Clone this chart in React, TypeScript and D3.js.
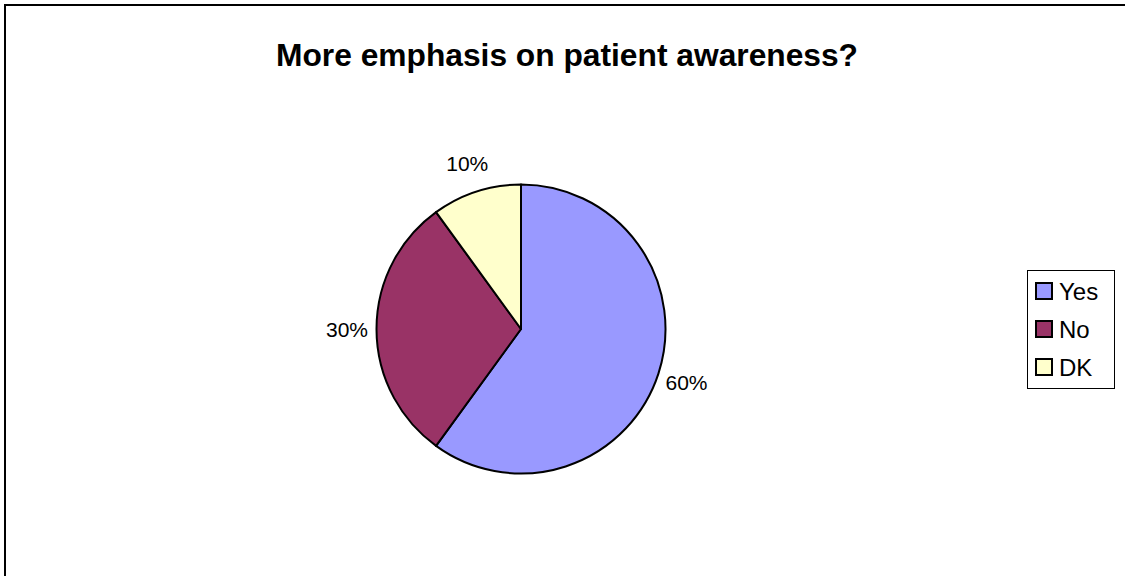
import React from "react";
import * as d3 from "d3";

const categories: string[] = ["Yes", "No", "DK"];
const shares: number[] = [60, 30, 10];
const sliceColors: string[] = ["#9999FF", "#993366", "#FFFFCC"];
const titleText = "More emphasis on patient awareness?";

const W = 1125;
const H = 576;
const cx = 521;
const cy = 329;
const radius = 144.5;
const labelRadius = 174;
const font = "Arial, 'Liberation Sans', Helvetica, sans-serif";

export default function App() {
  const pie = d3
    .pie<number>()
    .sort(null)
    .value((d) => d);
  const slices = pie(shares);
  const arc = d3.arc<d3.PieArcDatum<number>>().innerRadius(0).outerRadius(radius);
  const labelArc = d3
    .arc<d3.PieArcDatum<number>>()
    .innerRadius(labelRadius)
    .outerRadius(labelRadius);

  const legendY = d3
    .scaleBand<string>()
    .domain(categories)
    .range([272, 386])
    .paddingInner(0);

  return (
    <div style={{ position: "fixed", left: 0, top: 0, width: W, height: H, background: "#fff" }}>
      <svg width={W} height={H} style={{ display: "block" }}>
        <rect x={0} y={0} width={W} height={H} fill="#fff" />
        {/* chart area frame, clipped by the right and bottom edges */}
        <rect x={5} y={5} width={W + 20} height={H + 20} fill="none" stroke="#000" strokeWidth={2} />
        <text
          x={567}
          y={66}
          textAnchor="middle"
          fontFamily={font}
          fontWeight="bold"
          fontSize={32}
          textLength={582}
          lengthAdjust="spacingAndGlyphs"
          fill="#000"
        >
          {titleText}
        </text>
        <g transform={`translate(${cx},${cy})`}>
          {slices.map((s, i) => (
            <path
              key={categories[i]}
              d={arc(s) || ""}
              fill={sliceColors[i]}
              stroke="#000"
              strokeWidth={2}
              strokeLinejoin="round"
            />
          ))}
          {slices.map((s, i) => {
            const [lx, ly] = labelArc.centroid(s);
            return (
              <text
                key={"l" + categories[i]}
                x={lx}
                y={ly}
                dy="0.36em"
                textAnchor="middle"
                fontFamily={font}
                fontSize={21}
                fill="#000"
              >
                {`${shares[i]}%`}
              </text>
            );
          })}
        </g>
        <g>
          <rect x={1027.5} y={270.5} width={87} height={118} fill="#fff" stroke="#000" strokeWidth={1} />
          {categories.map((c, i) => {
            const y0 = (legendY(c) || 0) + 11;
            return (
              <g key={"g" + c}>
                <rect
                  x={1036}
                  y={y0}
                  width={16}
                  height={16}
                  fill={sliceColors[i]}
                  stroke="#000"
                  strokeWidth={2}
                />
                <text
                  x={1059}
                  y={y0 + 17}
                  fontFamily={font}
                  fontSize={24}
                  fill="#000"
                >
                  {c}
                </text>
              </g>
            );
          })}
        </g>
      </svg>
    </div>
  );
}
